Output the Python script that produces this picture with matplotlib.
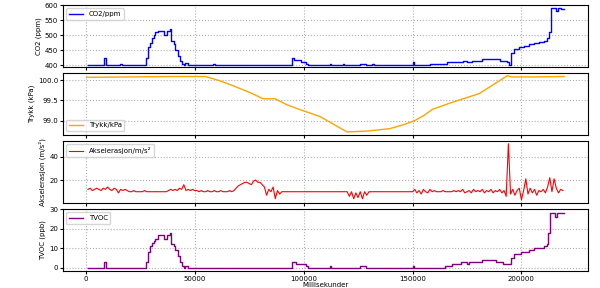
import numpy as np
import matplotlib
matplotlib.use("Agg")
import matplotlib.pyplot as plt

# CO2 (ppm), trinnvis sensor
co2_tid = [1000, 8000, 8200, 9000, 9200, 15000, 15500, 16500, 27000, 27500, 28500, 29500,
           30500, 31500, 32000, 33000, 35500, 36000, 36800, 37200, 38500, 39000, 40500,
           41000, 42500, 43300, 44000, 45000, 45500, 46500, 47000, 58000, 58500, 59200,
           94500, 94800, 95500, 98000, 99000, 101000, 102000, 112000, 112600, 118000,
           118600, 126000, 128500, 131500, 132200, 150300, 150900, 158000, 165600,
           173000, 175200, 177500, 182000, 187600, 190000, 193500, 194400, 195300,
           196700, 199000, 201300, 203600, 205900, 208000, 210400, 211800, 212700,
           213600, 215000, 216000, 216800, 218200, 219600]
co2_ppm = [400, 400, 423, 423, 400, 400, 403, 400, 400, 425, 460, 475,
           490, 500, 510, 515, 515, 502, 502, 515, 520, 480, 470,
           450, 430, 415, 405, 400, 408, 408, 400, 400, 403, 400,
           400, 425, 418, 418, 410, 403, 400, 405, 400, 405,
           400, 405, 400, 405, 400, 410, 400, 403, 410,
           415, 412, 415, 420, 420, 415, 410, 400, 440,
           455, 462, 465, 470, 475, 478, 480, 490, 510,
           590, 590, 580, 590, 588, 587]

# Trykk (kPa)
trykk_tid = [500, 20600, 40000, 54900, 61800, 67700, 75500, 81400, 86900, 92400, 98400,
             107500, 114000, 119900, 129000, 139500, 146000, 151000, 155000, 159200,
             167000, 180700, 193500, 195300, 205000, 219600]
trykk_kpa = [100.07, 100.08, 100.09, 100.09, 99.98, 99.86, 99.69, 99.54, 99.54, 99.39, 99.27,
             99.10, 98.90, 98.72, 98.74, 98.80, 98.90, 99.00, 99.12, 99.28,
             99.43, 99.67, 100.11, 100.08, 100.08, 100.09]

# Akselerasjon (m/s^2), ett punkt per sekund
aks_tid = np.arange(1000, 220000, 1000)
aks_ms2 = [12, 13, 11, 12, 13, 12, 11, 13, 12, 14,
           12, 11, 13, 12, 9, 12, 11, 12, 11, 10,
           10, 11, 10, 10, 10, 10, 11, 10, 10, 10,
           10, 10, 10, 10, 10, 10, 10, 11, 12, 11,
           12, 11, 13, 12, 16, 11, 12, 11, 12, 11,
           11, 10, 11, 10, 10, 11, 10, 10, 11, 10,
           10, 11, 10, 10, 10, 11, 10, 11, 13, 15,
           16, 17, 18, 18, 17, 16, 19, 20, 18, 18,
           16, 14, 7, 12, 10, 14, 4, 11, 8, 10,
           10, 10, 10, 10, 10, 10, 10, 10, 10, 10,
           10, 10, 10, 10, 10, 10, 10, 10, 10, 10,
           10, 10, 10, 10, 10, 10, 10, 10, 10, 10,
           6, 10, 4, 9, 5, 10, 4, 10, 7, 10,
           10, 10, 10, 10, 10, 10, 10, 10, 10, 10,
           10, 10, 10, 10, 10, 10, 10, 10, 10, 10,
           12, 9, 11, 8, 12, 10, 9, 12, 10, 11,
           10, 10, 10, 11, 10, 10, 10, 10, 11, 10,
           11, 10, 12, 9, 10, 11, 9, 12, 10, 11,
           10, 12, 9, 11, 10, 12, 9, 11, 10, 12,
           9, 11, 6, 51, 8, 12, 7, 11, 13, 3,
           11, 21, 8, 13, 9, 12, 7, 11, 10, 12,
           9, 14, 22, 10, 21, 13, 9, 12, 11]

# TVOC (ppb)
tvoc_tid = [1000, 8000, 8200, 9000, 9200, 27000, 27500, 28500, 29500, 30500, 31500,
            32000, 33000, 35500, 36000, 36800, 37200, 38500, 39000, 40500, 41000,
            42500, 43300, 44000, 45000, 45500, 46500, 47000, 94500, 94800, 96500,
            99000, 101000, 102000, 112000, 112600, 126000, 128500, 150300, 150900,
            164700, 167900, 172400, 175200, 176100, 182000, 187600, 188500, 191500,
            193000, 195300, 196700, 199900, 203600, 205900, 210400, 211800, 212200,
            213100, 215400, 216300, 219600]
tvoc_ppb = [0, 0, 3, 3, 0, 0, 3, 8, 11, 13, 14,
            15, 17, 17, 15, 15, 17, 18, 12, 11, 9,
            6, 3, 1, 0, 1, 1, 0, 0, 3, 2,
            2, 1, 0, 1, 0, 1, 0, 1, 0,
            1, 2, 3, 2, 3, 4, 4, 3, 2,
            2, 5, 7, 8, 9, 10, 11, 12, 18,
            28, 26, 28, 28]

plt.rcParams['font.size'] = 5
fig, axs = plt.subplots(4, 1, sharex=True, figsize=(6, 2.88), dpi=100)
fig.subplots_adjust(left=0.105, right=0.98, top=0.983, bottom=0.06, hspace=0.1)

axs[0].plot(co2_tid, co2_ppm, color='blue', lw=1, drawstyle='steps-post', label='CO2/ppm')
axs[0].set_ylabel('CO2 (ppm)')
axs[0].set_yticks([400, 450, 500, 550, 600])
axs[0].set_ylim(395, 601)
axs[0].legend(loc='upper left')

axs[1].plot(trykk_tid, trykk_kpa, color='orange', lw=1, label='Trykk/kPa')
axs[1].set_ylabel('Trykk (kPa)')
axs[1].legend(loc='lower left')

axs[2].plot(aks_tid, aks_ms2, color='red', lw=0.8, label='Akselerasjon/m/s²')
axs[2].set_ylabel('Akselerasjon (m/s²)')
axs[2].legend(loc='upper left')

axs[3].plot(tvoc_tid, tvoc_ppb, color='purple', lw=1, drawstyle='steps-post', label='TVOC')
axs[3].set_ylabel('TVOC (ppb)')
axs[3].set_yticks([0, 10, 20, 30])
axs[3].set_ylim(-1.5, 30.3)
axs[3].legend(loc='upper left')
axs[3].set_xlabel('Millisekunder', labelpad=0)
axs[3].set_xticks([0, 50000, 100000, 150000, 200000])

for ax in axs:
    ax.grid(True, linestyle=':', color='#b0b0b0')
    ax.tick_params(length=2, pad=1.5)
    ax.yaxis.labelpad = 2

fig.savefig('out.png', dpi=100)
